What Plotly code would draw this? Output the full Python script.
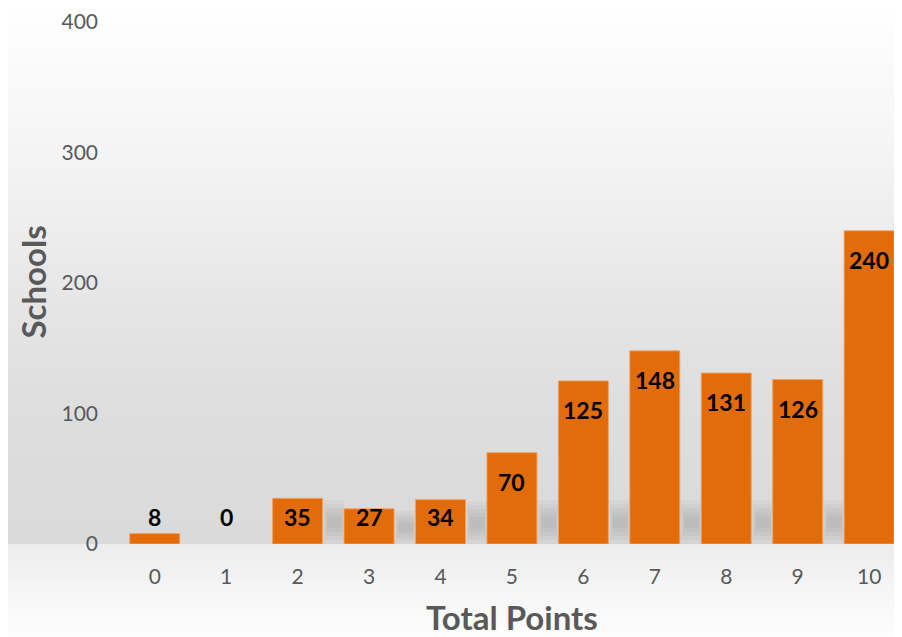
import plotly.graph_objects as go

points = [0, 1, 2, 3, 4, 5, 6, 7, 8, 9, 10]
schools = [8, 0, 35, 27, 34, 70, 125, 148, 131, 126, 240]
tick_labels = [str(p) for p in points]
y_ticks = [0, 100, 200, 300, 400]

# page body has an 8px margin; the figure starts at page (8, 8)
OFF = 8
W, H = 902 - OFF, 637 - OFF
ML, MR, MT, MB = 119 - OFF, 0, 19 - OFF, 93
PW, PH = W - ML - MR, H - MT - MB
BAR_W = 0.7

FONT = "Lato, 'Open Sans', sans-serif"
ORANGE = "#E36C0A"
GRAY_TEXT = "#595959"

line_widths = [1 if v > 0 else 0 for v in schools]
lbl_font = dict(family=FONT, size=23, color="black", weight="bold")

fig = go.Figure()
fig.add_trace(go.Bar(
    x=points, y=schools, width=BAR_W,
    marker=dict(color=ORANGE, line=dict(color="rgba(246,160,96,0.9)", width=line_widths)),
    cliponaxis=False,
    hoverinfo="x+y",
))


def page_to_paper_y(py):
    return 1 - (py - OFF - MT) / PH


def page_to_paper_x(px):
    return (px - OFF - ML) / PW


# background gradient (paper-referenced stripes), in page pixel rows
stops = [(0, 255), (100, 248), (200, 240), (300, 230), (400, 222), (544, 218)]
stops2 = [(545, 236), (590, 245), (637, 253)]


def interp(stops_, y):
    for (y0, g0), (y1, g1) in zip(stops_, stops_[1:]):
        if y0 <= y <= y1:
            t = (y - y0) / (y1 - y0) if y1 != y0 else 0
            return g0 + t * (g1 - g0)
    return stops_[-1][1]


shapes = []
step = 3
y = 0
while y < 645:
    y_end = y + step
    mid = (y + y_end) / 2
    if y_end <= 545:
        g = interp(stops, mid)
    elif y >= 545:
        g = interp(stops2, mid)
    else:
        y_end = 545
        g = interp(stops, mid)
    g = int(round(g))
    # overlap each stripe by 1px with the one above to avoid seams
    shapes.append(dict(
        type="rect", xref="paper", yref="paper",
        x0=page_to_paper_x(-10), x1=page_to_paper_x(910),
        y0=page_to_paper_y(y_end), y1=page_to_paper_y(y - 1 if y > 0 else -5),
        fillcolor=f"rgb({g},{g},{g})", line=dict(width=0), layer="below",
    ))
    y = y_end

# soft shadows in the gaps right of each bar
units_per_px = 400 / PH
for p, v in zip(points, schools):
    if v < 15:
        continue
    scale = min(1.0, v / (46 * units_per_px))
    centre = 22 * scale
    for half, inset in [(22, 0.0), (18, 0.02), (14, 0.035), (10, 0.05), (6, 0.065)]:
        hh = half * scale
        shapes.append(dict(
            type="rect", xref="x", yref="y",
            x0=p + BAR_W / 2 + inset, x1=p + 1 - BAR_W / 2 - inset / 2,
            y0=max(0, centre - hh) * units_per_px, y1=(centre + hh) * units_per_px,
            fillcolor="rgba(0,0,0,0.028)", line=dict(width=0), layer="below",
        ))

# value labels: Excel-style "inside end" for tall bars, fixed row for short ones
annotations = []
for p, v in zip(points, schools):
    if v >= 50:
        ann = dict(x=p, y=v, yshift=-29)
    else:
        ann = dict(x=p, y=0, yshift=27.5)
    ann.update(text=str(v), xref="x", yref="y", showarrow=False,
               xanchor="center", yanchor="middle", font=lbl_font)
    annotations.append(ann)

annotations += [
    dict(text="<b>Total Points</b>", xref="paper", yref="paper",
         x=page_to_paper_x(512), y=page_to_paper_y(617),
         xanchor="center", yanchor="middle", showarrow=False,
         font=dict(family=FONT, size=33, color=GRAY_TEXT)),
    dict(text="<b>Schools</b>", xref="paper", yref="paper",
         x=page_to_paper_x(33), y=page_to_paper_y(281),
         xanchor="center", yanchor="middle", showarrow=False, textangle=-90,
         font=dict(family=FONT, size=33, color=GRAY_TEXT)),
]

fig.update_layout(
    width=W, height=H,
    margin=dict(l=ML, r=MR, t=MT, b=MB),
    paper_bgcolor="white",
    plot_bgcolor="rgba(0,0,0,0)",
    showlegend=False,
    shapes=shapes,
    xaxis=dict(
        range=[-0.5, 10.46], tickvals=points, ticktext=tick_labels,
        showgrid=False, zeroline=False, showline=False, ticks="",
        tickfont=dict(family=FONT, size=21, color=GRAY_TEXT),
        ticklabelstandoff=18, ticklabeloverflow="allow", fixedrange=True,
    ),
    yaxis=dict(
        range=[0, 400], tickvals=y_ticks,
        showgrid=False, zeroline=False, showline=False, ticks="",
        tickfont=dict(family=FONT, size=21, color=GRAY_TEXT),
        ticklabelstandoff=20, ticklabeloverflow="allow", fixedrange=True,
    ),
    annotations=annotations,
)

fig.write_html("out.html")
